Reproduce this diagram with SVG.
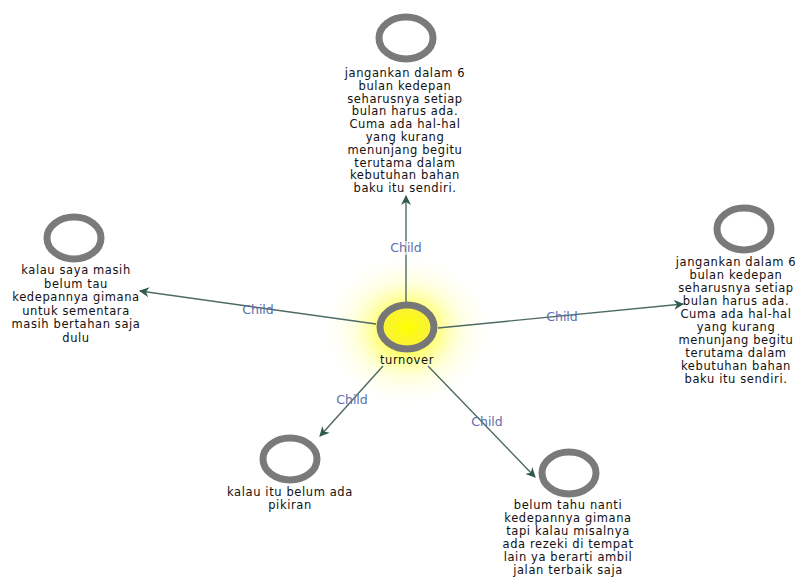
<svg xmlns="http://www.w3.org/2000/svg" width="802" height="577" viewBox="0 0 802 577">
<defs>
<radialGradient id="glow" cx="0.5" cy="0.5" r="0.5">
<stop offset="0" stop-color="#ffff00" stop-opacity="0.95"/>
<stop offset="0.3" stop-color="#ffff30" stop-opacity="0.7"/>
<stop offset="0.6" stop-color="#ffff90" stop-opacity="0.3"/>
<stop offset="1" stop-color="#ffffff" stop-opacity="0"/>
</radialGradient>
<radialGradient id="core" cx="0.5" cy="0.5" r="0.5">
<stop offset="0" stop-color="#ffff00"/>
<stop offset="1" stop-color="#f8f040"/>
</radialGradient>
<marker id="arr" viewBox="0 0 10 10" refX="9" refY="5" markerWidth="10" markerHeight="10" markerUnits="userSpaceOnUse" orient="auto">
<path d="M0,0 L10,5 L0,10 L3,5 Z" fill="#2f5a50"/>
</marker>
<style>
.ring{fill:#ffffff;stroke:#7a7a7a;stroke-width:7}
.lbl{font-family:"DejaVu Sans","Liberation Sans",sans-serif;font-size:11.5px;letter-spacing:0.6px;fill:#111;text-anchor:middle}
.edge{stroke:#4e6a64;stroke-width:1.4;fill:none;marker-end:url(#arr)}
.el{font-family:"DejaVu Sans","Liberation Sans",sans-serif;font-size:12.5px;fill:#5b6fae;text-anchor:middle}
</style>
</defs>
<rect width="802" height="577" fill="#ffffff"/>
<ellipse cx="407" cy="330" rx="88" ry="80" fill="url(#glow)"/>
<g id="connectors">
<line class="edge" x1="406" y1="305" x2="406" y2="196"/>
<line class="edge" x1="376" y1="324" x2="140" y2="291"/>
<line class="edge" x1="438" y1="328" x2="683" y2="304"/>
<line class="edge" x1="383" y1="366" x2="320" y2="436"/>
<line class="edge" x1="428" y1="366" x2="535" y2="477"/>
<rect x="388" y="241" width="36" height="14" fill="#ffffff" fill-opacity="0.6"/>
<text class="el" x="406" y="252">Child</text>
<text class="el" x="258" y="314">Child</text>
<text class="el" x="562" y="321">Child</text>
<text class="el" x="352" y="404">Child</text>
<text class="el" x="487" y="426">Child</text>
</g>
<g id="turnover">
<ellipse cx="407" cy="327" rx="27" ry="22" fill="url(#core)" stroke="#777777" stroke-width="7"/>
<text class="lbl" x="407" y="364">turnover</text>
</g>
<g id="node-top">
<ellipse class="ring" cx="406" cy="38" rx="27" ry="21"/>
<text class="lbl" x="405" y="77">jangankan dalam 6</text>
<text class="lbl" x="405" y="89.8">bulan kedepan</text>
<text class="lbl" x="405" y="102.6">seharusnya setiap</text>
<text class="lbl" x="405" y="115.4">bulan harus ada.</text>
<text class="lbl" x="405" y="128.2">Cuma ada hal-hal</text>
<text class="lbl" x="405" y="141">yang kurang</text>
<text class="lbl" x="405" y="153.8">menunjang begitu</text>
<text class="lbl" x="405" y="166.6">terutama dalam</text>
<text class="lbl" x="405" y="179.4">kebutuhan bahan</text>
<text class="lbl" x="405" y="192.2">baku itu sendiri.</text>
</g>
<g id="node-left">
<ellipse class="ring" cx="74" cy="238" rx="27" ry="21"/>
<text class="lbl" x="76" y="274">kalau saya masih</text>
<text class="lbl" x="76" y="287.5">belum tau</text>
<text class="lbl" x="76" y="301">kedepannya gimana</text>
<text class="lbl" x="76" y="314.5">untuk sementara</text>
<text class="lbl" x="76" y="328">masih bertahan saja</text>
<text class="lbl" x="76" y="341.5">dulu</text>
</g>
<g id="node-right">
<ellipse class="ring" cx="744" cy="229" rx="27" ry="21"/>
<text class="lbl" x="736" y="266">jangankan dalam 6</text>
<text class="lbl" x="736" y="279">bulan kedepan</text>
<text class="lbl" x="736" y="292">seharusnya setiap</text>
<text class="lbl" x="736" y="305">bulan harus ada.</text>
<text class="lbl" x="736" y="318">Cuma ada hal-hal</text>
<text class="lbl" x="736" y="331">yang kurang</text>
<text class="lbl" x="736" y="344">menunjang begitu</text>
<text class="lbl" x="736" y="357">terutama dalam</text>
<text class="lbl" x="736" y="370">kebutuhan bahan</text>
<text class="lbl" x="736" y="383">baku itu sendiri.</text>
</g>
<g id="node-bottom-left">
<ellipse class="ring" cx="290" cy="459" rx="27" ry="21"/>
<text class="lbl" x="290" y="496">kalau itu belum ada</text>
<text class="lbl" x="290" y="509">pikiran</text>
</g>
<g id="node-bottom-right">
<ellipse class="ring" cx="569" cy="473" rx="27" ry="21"/>
<text class="lbl" x="568" y="509">belum tahu nanti</text>
<text class="lbl" x="568" y="522">kedepannya gimana</text>
<text class="lbl" x="568" y="535">tapi kalau misalnya</text>
<text class="lbl" x="568" y="548">ada rezeki di tempat</text>
<text class="lbl" x="568" y="561">lain ya berarti ambil</text>
<text class="lbl" x="568" y="574">jalan terbaik saja</text>
</g>
</svg>
